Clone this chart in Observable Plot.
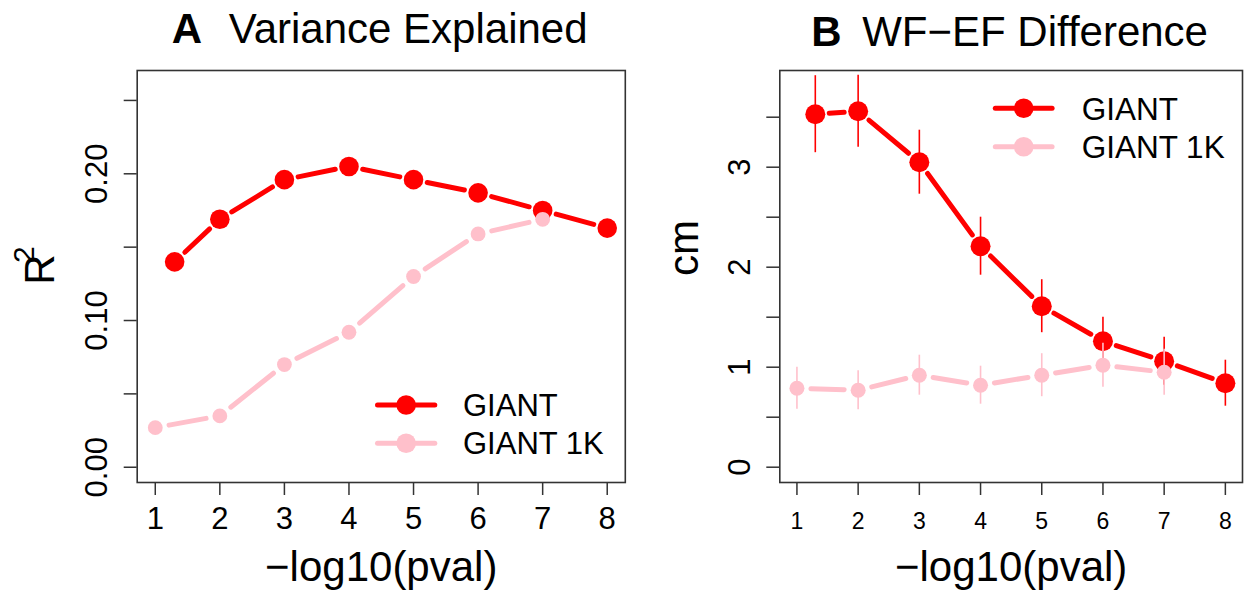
<!DOCTYPE html>
<html>
<head>
<meta charset="utf-8">
<script src="https://cdn.jsdelivr.net/npm/d3@7"></script>
<script src="https://cdn.jsdelivr.net/npm/@observablehq/plot@0.6"></script>
<style>
  body { margin: 0; background: #fff; }
  #wrap { display: flex; width: 1245px; height: 593px; background: #fff; }
  #wrap svg { display: block; }
</style>
</head>
<body>
<div id="wrap"></div>
<script>
// ---------- data ----------
const pvalTicks = [1, 2, 3, 4, 5, 6, 7, 8];
const seriesNames = ["GIANT", "GIANT 1K"];
const seriesColors = ["red", "pink"];

const xGiant   = [1.3, 2, 3, 4, 5, 6, 7, 8];
const xGiant1K = [1, 2, 3, 4, 5, 6, 7];

// Panel A: variance explained (R^2)
const r2Giant   = [0.140, 0.169, 0.196, 0.205, 0.196, 0.187, 0.175, 0.163];
const r2Giant1K = [0.027, 0.035, 0.070, 0.092, 0.130, 0.159, 0.169];

// Panel B: WF-EF difference (cm) with error half-widths
const cmGiant     = [3.53, 3.56, 3.05, 2.21, 1.61, 1.26, 1.06, 0.84];
const cmGiantErr  = [0.385, 0.36, 0.32, 0.29, 0.265, 0.24, 0.24, 0.23];
const cmGiant1K    = [0.79, 0.77, 0.92, 0.82, 0.92, 1.02, 0.95];
const cmGiant1KErr = [0.21, 0.195, 0.20, 0.19, 0.215, 0.22, 0.23];

const yTicksA  = [0, 0.05, 0.10, 0.15, 0.20, 0.25];
const yLabelsA = ["0.00", "", "0.10", "", "0.20", ""];
const yTicksB  = [0, 0.5, 1, 1.5, 2, 2.5, 3, 3.5];
const yLabelsB = ["0", "", "1", "", "2", "", "3", ""];

const titleA = ["A", "Variance Explained"];
const titleB = ["B", "WF\u2212EF Difference"];
const xLabel = "\u2212log10(pval)";
const yLabelA = ["R", "2"];
const yLabelB = "cm";

// ---------- helpers ----------
const FONT = '"Liberation Sans", Arial, Helvetica, sans-serif';
const AXIS = "#333";

function pts(xs, ys, errs) {
  return xs.map((x, i) => ({x, y: ys[i], e: errs ? errs[i] : 0}));
}
function segs(points) {
  return d3.pairs(points).map(([a, b]) => ({x1: a.x, y1: a.y, x2: b.x, y2: b.y}));
}
function seriesMarks(points, color, r, withErr) {
  const m = [
    Plot.arrow(segs(points), {
      x1: "x1", y1: "y1", x2: "x2", y2: "y2",
      stroke: color, strokeWidth: 5, headLength: 0,
      insetStart: 14, insetEnd: 14, strokeLinecap: "round"
    })
  ];
  if (withErr) {
    m.push(Plot.ruleX(points, {x: "x", y1: d => d.y - d.e, y2: d => d.y + d.e, stroke: color, strokeWidth: 1.6}));
  }
  m.push(Plot.dot(points, {x: "x", y: "y", r, fill: color}));
  return m;
}
function addLegend(svg, {x1, x2, xText, ys, r, fontSize}) {
  const g = d3.select(svg).append("g");
  seriesNames.forEach((name, i) => {
    g.append("line")
      .attr("x1", x1).attr("x2", x2).attr("y1", ys[i]).attr("y2", ys[i])
      .attr("stroke", seriesColors[i]).attr("stroke-width", 5).attr("stroke-linecap", "round");
    g.append("circle")
      .attr("cx", (x1 + x2) / 2).attr("cy", ys[i]).attr("r", r).attr("fill", seriesColors[i]);
    g.append("text")
      .attr("x", xText).attr("y", ys[i] + fontSize * 0.36)
      .attr("text-anchor", "start")
      .attr("font-family", FONT).attr("font-size", fontSize).attr("fill", "black")
      .text(name);
  });
}

// ---------- Panel A ----------
const ptsA1 = pts(xGiant, r2Giant);
const ptsA2 = pts(xGiant1K, r2Giant1K);

const plotA = Plot.plot({
  width: 640, height: 593,
  marginLeft: 136.7, marginRight: 15.2, marginTop: 70, marginBottom: 111,
  style: {fontFamily: FONT, background: "white", color: "black", overflow: "visible"},
  x: {domain: [0.72, 8.28]},
  y: {domain: [-0.0104, 0.2704]},
  marks: [
    Plot.axisX({ticks: pvalTicks, tickSize: 13, tickPadding: 11, fontSize: 31, stroke: AXIS, strokeWidth: 1.5, label: null}),
    Plot.axisY({ticks: yTicksA, tickFormat: d => yLabelsA[yTicksA.indexOf(d)], tickRotate: -90,
      tickSize: 13, tickPadding: 17.7, fontSize: 31, stroke: AXIS, strokeWidth: 1.5, label: null}),
    Plot.frame({stroke: AXIS, strokeWidth: 1.6}),
    ...seriesMarks(ptsA1, seriesColors[0], 9.8, false),
    ...seriesMarks(ptsA2, seriesColors[1], 7.4, false),
    Plot.text([titleA[0]], {frameAnchor: "top", textAnchor: "start", lineAnchor: "bottom", dx: -209.4, dy: -27.3, fontSize: 42, fontWeight: "bold"}),
    Plot.text([titleA[1]], {frameAnchor: "top", textAnchor: "start", lineAnchor: "bottom", dx: -152.5, dy: -27.3, fontSize: 42}),
    Plot.text([xLabel], {frameAnchor: "bottom", lineAnchor: "bottom", dy: 98, fontSize: 42}),
    Plot.text([yLabelA[0]], {frameAnchor: "left", rotate: -90, lineAnchor: "bottom", dx: -83.4, dy: 8.2, fontSize: 42}),
    Plot.text([yLabelA[1]], {frameAnchor: "left", rotate: -90, lineAnchor: "bottom", dx: -103.4, dy: -13.6, fontSize: 30})
  ]
});
addLegend(plotA, {x1: 377.5, x2: 434.8, xText: 463, ys: [405, 443.3], r: 9.8, fontSize: 31});

// ---------- Panel B ----------
const ptsB1 = pts(xGiant, cmGiant, cmGiantErr);
const ptsB2 = pts(xGiant1K, cmGiant1K, cmGiant1KErr);

const plotB = Plot.plot({
  width: 605, height: 593,
  marginLeft: 139.3, marginRight: 3, marginTop: 70, marginBottom: 111,
  style: {fontFamily: FONT, background: "white", color: "black", overflow: "visible"},
  x: {domain: [0.72, 8.28]},
  y: {domain: [-0.153, 3.967]},
  marks: [
    Plot.axisX({ticks: pvalTicks, tickSize: 13, tickPadding: 16.7, fontSize: 23, stroke: AXIS, strokeWidth: 1.5, label: null}),
    Plot.axisY({ticks: yTicksB, tickFormat: d => yLabelsB[yTicksB.indexOf(d)], tickRotate: -90,
      tickSize: 13, tickPadding: 17, fontSize: 31, stroke: AXIS, strokeWidth: 1.5, label: null}),
    Plot.frame({stroke: AXIS, strokeWidth: 1.6}),
    ...seriesMarks(ptsB1, seriesColors[0], 10, true),
    ...seriesMarks(ptsB2, seriesColors[1], 7.5, true),
    Plot.text([titleB[0]], {frameAnchor: "top", textAnchor: "start", lineAnchor: "bottom", dx: -200, dy: -25, fontSize: 42, fontWeight: "bold"}),
    Plot.text([titleB[1]], {frameAnchor: "top", textAnchor: "start", lineAnchor: "bottom", dx: -149, dy: -25, fontSize: 42}),
    Plot.text([xLabel], {frameAnchor: "bottom", lineAnchor: "bottom", dy: 98, fontSize: 42}),
    Plot.text([yLabelB], {frameAnchor: "left", rotate: -90, lineAnchor: "bottom", dx: -81.5, dy: -0.5, fontSize: 42})
  ]
});
addLegend(plotB, {x1: 355.3, x2: 412.1, xText: 441.7, ys: [108.3, 146.7], r: 9.8, fontSize: 31.5});

document.getElementById("wrap").append(plotA, plotB);
</script>
</body>
</html>
